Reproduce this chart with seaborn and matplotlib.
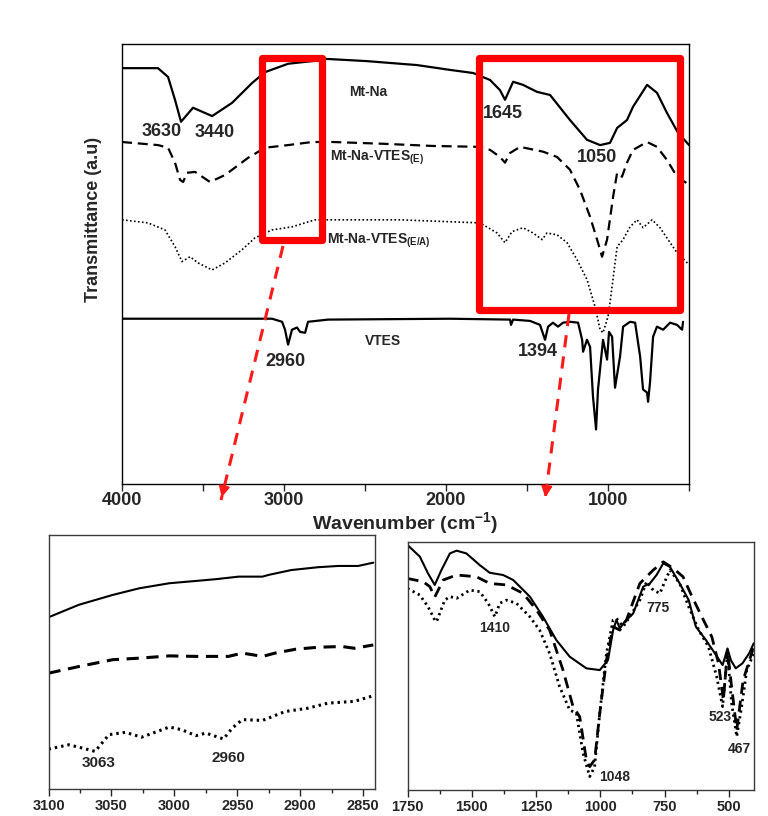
import matplotlib
matplotlib.use("Agg")
import matplotlib.pyplot as plt
import seaborn as sns
from matplotlib.patches import Rectangle
from matplotlib.lines import Line2D
from matplotlib.ticker import MultipleLocator

# ---- main panel spectra (wavenumber, offset transmittance in a.u.) ----
mtna_wn = [4000, 3778, 3716, 3673, 3636, 3562, 3444, 3321, 3198, 3117, 2975, 2827, 2735,
           2488, 2179, 1975, 1833, 1728, 1667, 1636, 1586, 1525, 1438, 1358, 1235, 1130,
           1049, 988, 944, 883, 846, 759, 698, 636, 568, 500]
mtna_t = [94.5, 94.5, 92.5, 87.3, 82.3, 85.5, 83.6, 86.6, 91.1, 93.6, 95.5, 96.1, 96.6,
          96.1, 95.2, 94.1, 93.4, 91.8, 89.5, 87.3, 91.4, 90.7, 89.1, 88.4, 82.7, 78.2,
          77.0, 77.5, 80.9, 82.7, 85.7, 90.7, 88.9, 84.3, 79.8, 77.0]

vtes_e_wn = [4000, 3778, 3716, 3673, 3642, 3623, 3599, 3549, 3457, 3364, 3222, 3117, 2975,
             2827, 2698, 2389, 2080, 1790, 1728, 1667, 1636, 1605, 1543, 1401, 1315, 1235,
             1173, 1111, 1062, 1037, 1006, 969, 944, 914, 883, 846, 759, 698, 636, 574, 500]
vtes_e_t = [77.7, 77.0, 76.4, 73.0, 69.1, 68.6, 70.7, 70.9, 68.6, 70.2, 74.1, 76.4, 77.0,
            77.7, 77.7, 77.3, 76.8, 76.6, 75.9, 74.3, 73.0, 75.2, 76.6, 75.5, 74.3, 71.4,
            66.8, 60.7, 54.8, 51.6, 55.5, 65.2, 70.7, 69.8, 73.0, 75.9, 77.7, 76.6, 73.6,
            69.8, 68.0]

vtes_ea_wn = [4000, 3840, 3735, 3673, 3630, 3580, 3531, 3444, 3364, 3259, 3179, 3074, 2951,
              2809, 2284, 1790, 1685, 1636, 1593, 1525, 1463, 1407, 1377, 1315, 1253, 1191,
              1130, 1080, 1049, 1031, 1000, 988, 944, 907, 864, 821, 784, 728, 679, 617,
              574, 500]
vtes_ea_t = [60.0, 59.3, 57.7, 53.9, 50.5, 51.6, 50.2, 48.6, 50.2, 53.2, 55.9, 57.7, 58.4,
             60.0, 60.0, 59.3, 57.0, 54.8, 57.3, 58.2, 57.0, 55.5, 57.0, 56.6, 54.8, 50.9,
             46.4, 40.2, 35.0, 34.3, 38.0, 41.1, 53.9, 55.5, 58.4, 60.0, 58.2, 60.0, 58.2,
             54.8, 52.5, 49.8]

vtes_wn = [4000, 3074, 3012, 2994, 2975, 2951, 2920, 2901, 2870, 2852, 2728, 1975, 1605,
           1599, 1586, 1481, 1420, 1389, 1370, 1340, 1309, 1278, 1235, 1185, 1160, 1154,
           1130, 1111, 1093, 1074, 1062, 1031, 1006, 994, 975, 957, 926, 907, 864, 833,
           802, 784, 759, 753, 741, 722, 698, 660, 617, 574, 543, 537]
vtes_t = [37.5, 37.5, 36.8, 35.0, 31.6, 35.0, 35.5, 34.5, 34.3, 36.8, 37.3, 37.5, 37.3,
          36.1, 37.3, 37.0, 36.1, 32.7, 35.7, 36.6, 35.7, 36.6, 36.8, 36.6, 32.7, 30.0,
          32.7, 31.1, 19.8, 12.3, 21.4, 32.7, 28.2, 34.5, 33.4, 21.8, 28.9, 35.7, 36.8,
          36.6, 28.9, 21.4, 20.7, 18.6, 23.0, 33.4, 35.7, 35.0, 36.6, 36.1, 35.0, 36.8]

# ---- inset 1: 3100-2840 cm-1 ----
c1_solid_wn = [3100, 3076, 3049, 3028, 3004, 2983, 2967, 2949, 2930, 2925, 2907, 2886, 2870, 2854, 2842]
c1_solid_t = [67.6, 72.5, 76.4, 79.0, 81.0, 81.9, 82.6, 83.6, 83.6, 84.3, 86.2, 87.3, 87.8, 87.8, 89.1]
c1_dash_wn = [3100, 3076, 3049, 3028, 3004, 2983, 2967, 2957, 2946, 2930, 2920, 2904, 2886, 2867, 2857, 2842]
c1_dash_t = [45.6, 48.2, 50.9, 51.5, 52.4, 52.2, 52.2, 52.2, 53.5, 52.2, 53.5, 55.0, 55.8, 56.1, 55.4, 56.7]
c1_dot_wn = [3100, 3084, 3073, 3063, 3052, 3039, 3026, 3004, 2994, 2983, 2975, 2961, 2954, 2946,
             2930, 2912, 2894, 2878, 2857, 2842]
c1_dot_t = [15.7, 17.4, 16.1, 14.8, 21.4, 22.3, 20.4, 24.4, 23.3, 21.0, 22.0, 19.7, 24.0, 27.3,
            27.0, 30.5, 31.8, 33.8, 34.5, 36.7]

# ---- inset 2: 1750-400 cm-1 ----
c2_solid_wn = [1750, 1702, 1670, 1644, 1618, 1585, 1559, 1521, 1469, 1430, 1378, 1339, 1274, 1223,
               1171, 1119, 1054, 1002, 970, 950, 937, 924, 905, 872, 833, 807, 781, 755, 729,
               691, 656, 628, 589, 550, 524, 505, 492, 473, 447, 421, 403]
c2_solid_t = [98.7, 94.0, 87.2, 82.6, 88.6, 95.3, 96.4, 95.3, 90.6, 87.5, 86.6, 84.6, 77.9, 69.8,
              60.4, 53.7, 49.0, 48.3, 52.3, 64.4, 68.5, 65.1, 67.8, 71.1, 81.9, 83.2, 86.6, 91.3,
              89.9, 83.2, 76.5, 65.8, 60.4, 54.4, 50.3, 57.0, 52.3, 49.0, 51.0, 55.0, 59.1]
c2_dash_wn = [1750, 1689, 1663, 1644, 1611, 1559, 1482, 1430, 1365, 1300, 1248, 1197, 1145, 1106,
              1080, 1054, 1041, 1022, 1002, 976, 950, 924, 898, 846, 794, 755, 716, 678, 643,
              605, 566, 540, 521, 505, 489, 469, 444, 403]
c2_dash_t = [85.2, 83.9, 81.9, 77.7, 84.6, 86.6, 85.9, 83.2, 82.6, 79.2, 72.5, 64.4, 48.3, 33.6,
             29.5, 12.1, 9.4, 12.1, 30.9, 52.3, 65.8, 64.4, 68.5, 83.2, 88.6, 91.9, 89.3, 85.9,
             77.9, 69.8, 61.7, 51.0, 36.2, 56.4, 41.6, 24.2, 44.3, 57.7]
c2_dot_wn = [1750, 1702, 1670, 1644, 1637, 1605, 1585, 1559, 1508, 1469, 1436, 1410, 1391, 1365,
             1326, 1274, 1236, 1197, 1158, 1119, 1093, 1067, 1041, 1022, 1002, 976, 950, 937,
             911, 885, 846, 820, 794, 768, 749, 729, 691, 656, 617, 579, 547, 524, 505, 489,
             469, 450, 430, 403]
c2_dot_t = [81.2, 78.5, 73.8, 68.5, 67.8, 76.5, 77.9, 77.2, 80.5, 79.9, 75.2, 69.8, 75.2, 76.5,
            75.2, 69.8, 64.4, 55.0, 41.6, 32.2, 30.9, 14.8, 5.4, 9.4, 30.9, 55.0, 68.5, 69.1,
            65.8, 69.8, 76.5, 83.9, 80.5, 79.2, 83.9, 88.6, 83.2, 73.8, 64.4, 57.7, 45.6, 33.6,
            55.0, 34.9, 21.5, 33.6, 48.3, 55.0]

main_ticks = [4000, 3000, 2000, 1000]
inset1_ticks = [3100, 3050, 3000, 2950, 2900, 2850]
inset2_ticks = [1750, 1500, 1250, 1000, 750, 500]

sns.set_style("white")
plt.rcParams["font.family"] = ["Liberation Sans", "DejaVu Sans"]
plt.rcParams["font.weight"] = "bold"
plt.rcParams["axes.labelweight"] = "bold"
plt.rcParams["mathtext.fontset"] = "custom"
plt.rcParams["mathtext.rm"] = "Liberation Sans:bold"
plt.rcParams["mathtext.bf"] = "Liberation Sans:bold"
plt.rcParams["mathtext.default"] = "bf"

SOLID = "-"
DASH_MAIN = (0, (4.5, 2.6))
DOT_MAIN = (0, (1.0, 1.4))
DASH_IN = (0, (4.0, 2.5))
DOT_IN = (0, (0.8, 1.3))


def draw(ax, wn, t, ls, lw):
    sns.lineplot(x=wn, y=t, ax=ax, color="black", linewidth=lw, linestyle=ls,
                 estimator=None, sort=False)


def frame(ax, color, lw=1.0):
    for s in ax.spines.values():
        s.set_visible(True)
        s.set_color(color)
        s.set_linewidth(lw)


fig = plt.figure(figsize=(7.68, 8.16), dpi=100)

# ---------------- main panel ----------------
ax = fig.add_axes([0.1589, 0.4074, 0.7383, 0.5387])
draw(ax, mtna_wn, mtna_t, SOLID, 1.6)
draw(ax, vtes_e_wn, vtes_e_t, DASH_MAIN, 1.6)
draw(ax, vtes_ea_wn, vtes_ea_t, DOT_MAIN, 1.2)
draw(ax, vtes_wn, vtes_t, SOLID, 1.6)
ax.set_xlim(4000, 500)
ax.set_ylim(0, 100)
ax.set_xticks(main_ticks)
ax.xaxis.set_minor_locator(MultipleLocator(500))
ax.set_yticks([])
ax.tick_params(axis="x", which="both", direction="out", length=5, width=1,
               labelsize=13, pad=1, bottom=True)
ax.set_xlabel("Wavenumber (cm$^{-1}$)", fontsize=14, fontweight="bold", labelpad=1)
ax.set_ylabel("Transmittance (a.u)", fontsize=13, fontweight="bold")
ax.yaxis.set_label_coords(-0.035, 0.6)
frame(ax, "black")

txt = dict(ha="center", va="center", fontweight="bold")
ax.text(3753, 80.2, "3630", fontsize=13, **txt)
ax.text(3426, 79.8, "3440", fontsize=13, **txt)
ax.text(1648, 84.1, "1645", fontsize=13, **txt)
ax.text(1068, 74.1, "1050", fontsize=13, **txt)
ax.text(2994, 27.7, "2960", fontsize=13, **txt)
ax.text(1432, 30.0, "1394", fontsize=13, **txt)
ax.text(2481, 89.1, "Mt-Na", fontsize=10, **txt)
ax.text(2389, 32.5, "VTES", fontsize=10, **txt)
ax.text(2716, 73.5, "Mt-Na-VTES$_{(E)}$", fontsize=10, ha="left", va="baseline")
ax.text(2735, 54.5, "Mt-Na-VTES$_{(E/A)}$", fontsize=10, ha="left", va="baseline")

# zoom boxes
for x0, x1, y0, y1 in [(3139, 2768, 55.3, 96.9), (1799, 555, 39.5, 96.7)]:
    ax.add_patch(Rectangle((x0, y0), x1 - x0, y1 - y0, fill=False, edgecolor="#ff0000",
                           linewidth=5.2, joinstyle="round", zorder=5))

# ---------------- insets ----------------
ax1 = fig.add_axes([0.0632, 0.0331, 0.4245, 0.3113])
draw(ax1, c1_solid_wn, c1_solid_t, SOLID, 1.5)
draw(ax1, c1_dash_wn, c1_dash_t, DASH_IN, 2.2)
draw(ax1, c1_dot_wn, c1_dot_t, DOT_IN, 2.2)
ax1.set_xlim(3100, 2841)
ax1.set_ylim(0, 100)
ax1.set_xticks(inset1_ticks)
ax1.xaxis.set_minor_locator(MultipleLocator(25))
ax1.set_yticks([])
ax1.tick_params(axis="x", which="major", direction="out", length=5, width=1,
                labelsize=10.5, pad=2, bottom=True)
ax1.tick_params(axis="x", which="minor", direction="out", length=3, width=1, bottom=True)
ax1.set_xlabel("")
ax1.set_ylabel("")
frame(ax1, "#3a3a3a")
ax1.text(3060, 10.2, "3063", fontsize=11, **txt)
ax1.text(2957, 12.2, "2960", fontsize=11, **txt)

ax2 = fig.add_axes([0.5306, 0.0319, 0.4518, 0.3042])
draw(ax2, c2_solid_wn, c2_solid_t, SOLID, 1.5)
draw(ax2, c2_dash_wn, c2_dash_t, DASH_IN, 2.0)
draw(ax2, c2_dot_wn, c2_dot_t, DOT_IN, 2.0)
ax2.set_xlim(1750, 400)
ax2.set_ylim(0, 100)
ax2.set_xticks(inset2_ticks)
ax2.xaxis.set_minor_locator(MultipleLocator(125))
ax2.set_yticks([])
ax2.tick_params(axis="x", which="major", direction="out", length=5, width=1,
                labelsize=10.5, pad=2, bottom=True)
ax2.tick_params(axis="x", which="minor", direction="out", length=3, width=1, bottom=True)
ax2.set_xlabel("")
ax2.set_ylabel("")
frame(ax2, "#3a3a3a")
ax2.text(1411, 65.2, "1410", fontsize=10, **txt)
ax2.text(777, 73.3, "775", fontsize=10, **txt)
ax2.text(944, 5.2, "1048", fontsize=10, **txt)
ax2.text(532, 29.4, "523", fontsize=10, **txt)
ax2.text(458, 16.5, "467", fontsize=10, **txt)

# ---------------- red dashed arrows (figure pixels -> fraction) ----------------
W, H = 768.0, 816.0
for (xs, ys), (xe, ye) in [((283, 246), (221, 500)), ((569, 314), (545, 500))]:
    p0 = (xs / W, 1 - ys / H)
    p1 = (xe / W, 1 - ye / H)
    fig.add_artist(Line2D([p0[0], p1[0]], [p0[1], p1[1]], transform=fig.transFigure,
                          color="#ff1a1a", linewidth=2.2, linestyle=(0, (4, 3))))
    q = (p1[0] - (p1[0] - p0[0]) * 0.06, p1[1] - (p1[1] - p0[1]) * 0.06)
    fig.add_artist(matplotlib.patches.FancyArrowPatch(q, p1, transform=fig.transFigure,
                                                      arrowstyle="-|>", mutation_scale=16,
                                                      color="#ff1a1a", linewidth=1.5))

fig.savefig("out.png", dpi=100)
